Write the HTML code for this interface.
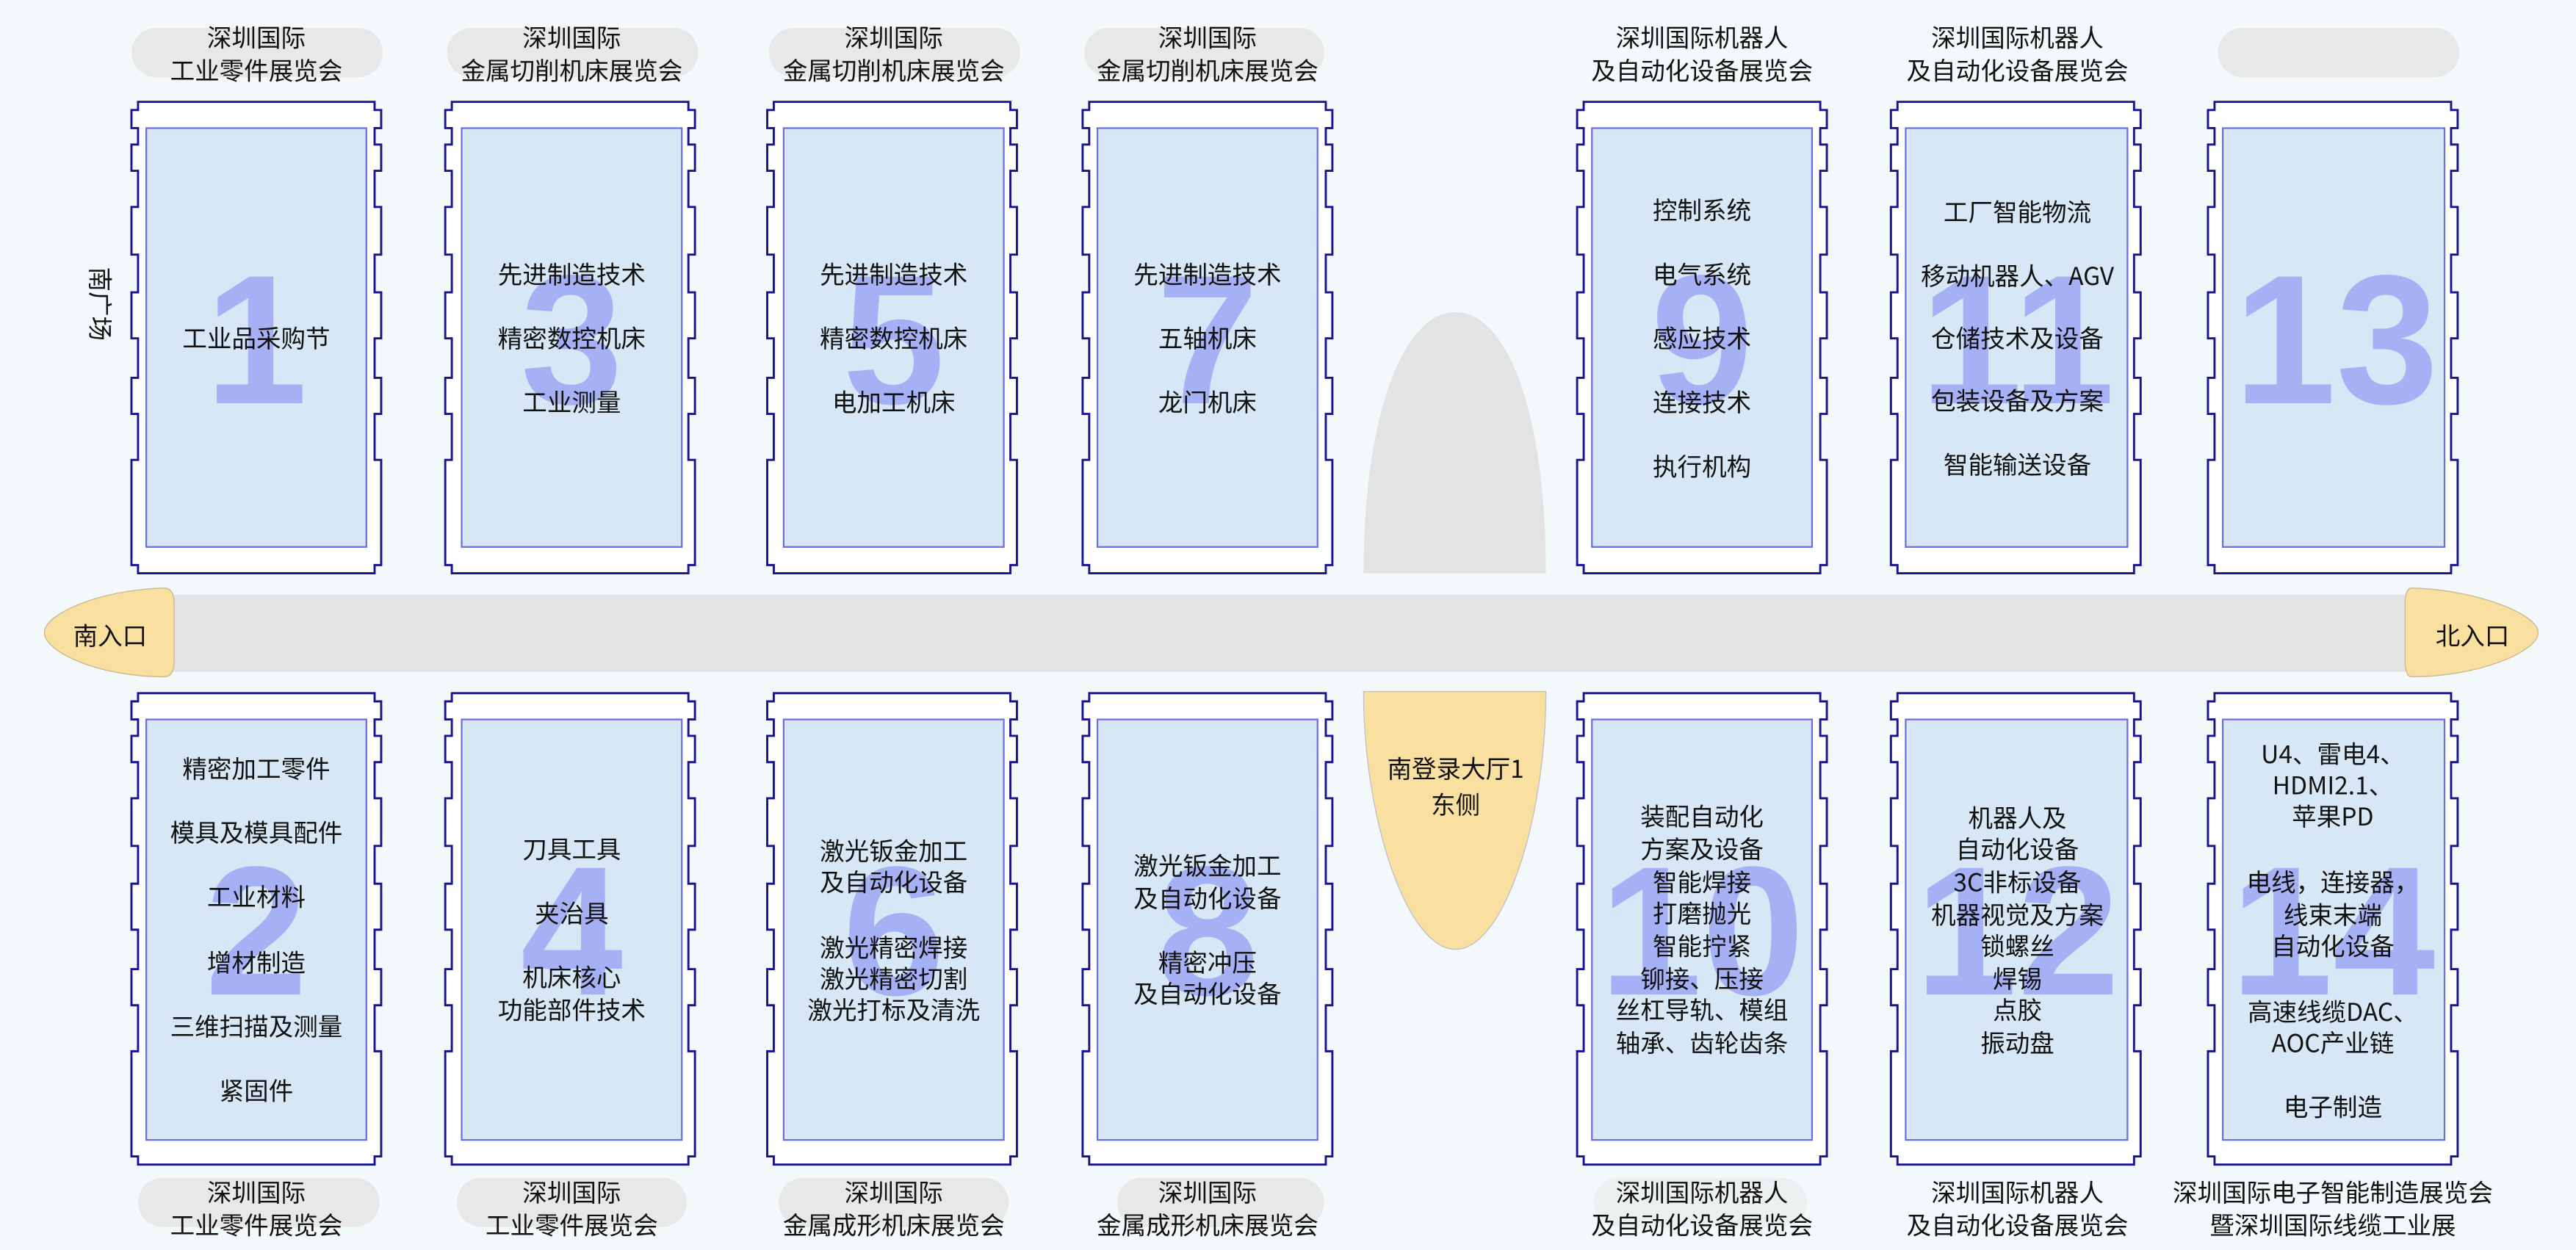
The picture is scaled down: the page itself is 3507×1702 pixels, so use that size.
<!DOCTYPE html>
<html><head><meta charset="utf-8"><style>
html,body{margin:0;padding:0;background:#f3f9fa;}
svg{display:block;}
text{font-family:"Liberation Sans","Noto Sans CJK SC",sans-serif;fill:#111;}
.t{font-size:15px;text-anchor:middle;dominant-baseline:central;font-family:"Noto Sans CJK SC","Liberation Sans",sans-serif;}
.n{font-size:112px;font-weight:bold;fill:#a6b0f5;text-anchor:middle;dominant-baseline:central;}
.h{fill:#fff;stroke:#17148c;stroke-width:1.3;}
.i{fill:#d8e7f5;stroke:#6a6fe0;stroke-width:1;}
.p{fill:#e8e8e8;}
</style></head><body>
<svg width="3507" height="1702" viewBox="0 0 1568 761" xmlns="http://www.w3.org/2000/svg">
<defs>
<path id="hall" d="M0,0 H144 V5 H148 V16 H144 V26 H148 V42 H144 V64 H148 V93 H144 V116 H148 V144 H144 V168 H148 V190 H144 V218 H148 V282 H144 V287 H0 V282 H-4 V218 H0 V190 H-4 V168 H0 V144 H-4 V116 H0 V93 H-4 V64 H0 V42 H-4 V26 H0 V16 H-4 V5 H0 Z"/>
</defs>
<rect width="1568" height="761" fill="#f3f9fa"/>
<rect x="100" y="362" width="1370" height="47" fill="#e3e3e3"/>
<path d="M100,358 C60,359 27,374 27,385 C27,397 60,412 100,412 Q106,412 106,402 V368 Q106,358 100,358 Z" fill="#f9dfa0" stroke="#c9b890" stroke-width="0.6"/>
<path d="M1468,358 C1508,359 1545,374 1545,385 C1545,397 1508,412 1468,412 Q1464,412 1464,402 V368 Q1464,358 1468,358 Z" fill="#f9dfa0" stroke="#c9b890" stroke-width="0.6"/>
<text class="t" x="67" y="386">南入口</text>
<text class="t" x="1505" y="386">北入口</text>
<path d="M830,349 C830,250 855,190 886,190 C917,190 941,250 941,349 Z" fill="#e3e3e3"/>
<path d="M830,421 H941 C941,500 915,578 886,578 C857,578 830,500 830,421 Z" fill="#f9dfa0" stroke="#c0c0c8" stroke-width="0.6"/>
<text class="t" x="886" y="467">南登录大厅1</text>
<text class="t" x="886" y="489">东侧</text>
<text class="t" x="62" y="185" transform="rotate(90 62 185)">南广场</text>

<rect class="p" x="80" y="17" width="153" height="30" rx="15"/>
<rect class="p" x="272" y="17" width="153" height="30" rx="15"/>
<rect class="p" x="468" y="17" width="153" height="30" rx="15"/>
<rect class="p" x="660" y="17" width="146" height="30" rx="15"/>
<rect class="p" x="1350" y="17" width="147" height="30" rx="15"/>
<rect class="p" x="84" y="717" width="147" height="30" rx="15"/>
<rect class="p" x="278" y="717" width="140" height="30" rx="15"/>
<rect class="p" x="474" y="717" width="140" height="30" rx="15"/>
<rect class="p" x="680" y="717" width="126" height="30" rx="15"/>
<rect class="p" x="970" y="717" width="130" height="30" rx="15" opacity="0.5"/>

<g>
<use href="#hall" x="84" y="62" class="h"/><rect class="i" x="89" y="78" width="134" height="255"/>
<use href="#hall" x="275" y="62" class="h"/><rect class="i" x="281" y="78" width="134" height="255"/>
<use href="#hall" x="471" y="62" class="h"/><rect class="i" x="477" y="78" width="134" height="255"/>
<use href="#hall" x="663" y="62" class="h"/><rect class="i" x="668" y="78" width="134" height="255"/>
<use href="#hall" x="964" y="62" class="h"/><rect class="i" x="969" y="78" width="134" height="255"/>
<use href="#hall" x="1155" y="62" class="h"/><rect class="i" x="1160" y="78" width="135" height="255"/>
<use href="#hall" x="1348" y="62" class="h"/><rect class="i" x="1353" y="78" width="135" height="255"/>
</g>
<g>
<use href="#hall" x="84" y="422" class="h"/><rect class="i" x="89" y="438" width="134" height="256"/>
<use href="#hall" x="275" y="422" class="h"/><rect class="i" x="281" y="438" width="134" height="256"/>
<use href="#hall" x="471" y="422" class="h"/><rect class="i" x="477" y="438" width="134" height="256"/>
<use href="#hall" x="663" y="422" class="h"/><rect class="i" x="668" y="438" width="134" height="256"/>
<use href="#hall" x="964" y="422" class="h"/><rect class="i" x="969" y="438" width="134" height="256"/>
<use href="#hall" x="1155" y="422" class="h"/><rect class="i" x="1160" y="438" width="135" height="256"/>
<use href="#hall" x="1348" y="422" class="h"/><rect class="i" x="1353" y="438" width="135" height="256"/>
</g>

<text class="n" x="156" y="207">1</text>
<text class="n" x="348" y="207">3</text>
<text class="n" x="544" y="207">5</text>
<text class="n" x="735" y="207">7</text>
<text class="n" x="1036" y="207">9</text>
<text class="n" x="1228" y="207">11</text>
<text class="n" x="1422" y="207">13</text>
<text class="n" x="156" y="567">2</text>
<text class="n" x="348" y="567">4</text>
<text class="n" x="544" y="567">6</text>
<text class="n" x="735" y="567">8</text>
<text class="n" x="1036" y="567">10</text>
<text class="n" x="1228" y="567">12</text>
<text class="n" x="1420" y="567">14</text>

<text class="t" x="156" y="22">深圳国际</text><text class="t" x="156" y="42">工业零件展览会</text>
<text class="t" x="348" y="22">深圳国际</text><text class="t" x="348" y="42">金属切削机床展览会</text>
<text class="t" x="544" y="22">深圳国际</text><text class="t" x="544" y="42">金属切削机床展览会</text>
<text class="t" x="735" y="22">深圳国际</text><text class="t" x="735" y="42">金属切削机床展览会</text>
<text class="t" x="1036" y="22">深圳国际机器人</text><text class="t" x="1036" y="42">及自动化设备展览会</text>
<text class="t" x="1228" y="22">深圳国际机器人</text><text class="t" x="1228" y="42">及自动化设备展览会</text>
<text class="t" x="156" y="725">深圳国际</text><text class="t" x="156" y="745">工业零件展览会</text>
<text class="t" x="348" y="725">深圳国际</text><text class="t" x="348" y="745">工业零件展览会</text>
<text class="t" x="544" y="725">深圳国际</text><text class="t" x="544" y="745">金属成形机床展览会</text>
<text class="t" x="735" y="725">深圳国际</text><text class="t" x="735" y="745">金属成形机床展览会</text>
<text class="t" x="1036" y="725">深圳国际机器人</text><text class="t" x="1036" y="745">及自动化设备展览会</text>
<text class="t" x="1228" y="725">深圳国际机器人</text><text class="t" x="1228" y="745">及自动化设备展览会</text>
<text class="t" x="1420" y="725">深圳国际电子智能制造展览会</text><text class="t" x="1420" y="745">暨深圳国际线缆工业展</text>

<text class="t" x="156" y="205">工业品采购节</text>
<text class="t" x="348" y="166">先进制造技术</text><text class="t" x="348" y="205">精密数控机床</text><text class="t" x="348" y="244">工业测量</text>
<text class="t" x="544" y="166">先进制造技术</text><text class="t" x="544" y="205">精密数控机床</text><text class="t" x="544" y="244">电加工机床</text>
<text class="t" x="735" y="166">先进制造技术</text><text class="t" x="735" y="205">五轴机床</text><text class="t" x="735" y="244">龙门机床</text>
<text class="t" x="1036" y="127">控制系统</text><text class="t" x="1036" y="166">电气系统</text><text class="t" x="1036" y="205">感应技术</text><text class="t" x="1036" y="244">连接技术</text><text class="t" x="1036" y="283">执行机构</text>
<text class="t" x="1228" y="128">工厂智能物流</text><text class="t" x="1228" y="167">移动机器人、AGV</text><text class="t" x="1228" y="205">仓储技术及设备</text><text class="t" x="1228" y="243">包装设备及方案</text><text class="t" x="1228" y="282">智能输送设备</text>

<text class="t" x="156" y="467">精密加工零件</text><text class="t" x="156" y="506">模具及模具配件</text><text class="t" x="156" y="545">工业材料</text><text class="t" x="156" y="585">增材制造</text><text class="t" x="156" y="624">三维扫描及测量</text><text class="t" x="156" y="663">紧固件</text>
<text class="t" x="348" y="516">刀具工具</text><text class="t" x="348" y="555">夹治具</text><text class="t" x="348" y="594">机床核心</text><text class="t" x="348" y="614">功能部件技术</text>
<text class="t" x="544" y="517">激光钣金加工</text><text class="t" x="544" y="536">及自动化设备</text><text class="t" x="544" y="576">激光精密焊接</text><text class="t" x="544" y="595">激光精密切割</text><text class="t" x="544" y="614">激光打标及清洗</text>
<text class="t" x="735" y="526">激光钣金加工</text><text class="t" x="735" y="546">及自动化设备</text><text class="t" x="735" y="585">精密冲压</text><text class="t" x="735" y="604">及自动化设备</text>
<text class="t" x="1036" y="496">装配自动化</text><text class="t" x="1036" y="516">方案及设备</text><text class="t" x="1036" y="536">智能焊接</text><text class="t" x="1036" y="555">打磨抛光</text><text class="t" x="1036" y="575">智能拧紧</text><text class="t" x="1036" y="595">铆接、压接</text><text class="t" x="1036" y="614">丝杠导轨、模组</text><text class="t" x="1036" y="634">轴承、齿轮齿条</text>
<text class="t" x="1228" y="497">机器人及</text><text class="t" x="1228" y="516">自动化设备</text><text class="t" x="1228" y="536">3C非标设备</text><text class="t" x="1228" y="556">机器视觉及方案</text><text class="t" x="1228" y="575">锁螺丝</text><text class="t" x="1228" y="595">焊锡</text><text class="t" x="1228" y="614">点胶</text><text class="t" x="1228" y="634">振动盘</text>
<text class="t" x="1420" y="458">U4、雷电4、</text><text class="t" x="1420" y="477">HDMI2.1、</text><text class="t" x="1420" y="496">苹果PD</text><text class="t" x="1420" y="536">电线，连接器，</text><text class="t" x="1420" y="556">线束末端</text><text class="t" x="1420" y="575">自动化设备</text><text class="t" x="1420" y="615">高速线缆DAC、</text><text class="t" x="1420" y="634">AOC产业链</text><text class="t" x="1420" y="673">电子制造</text>
</svg>
</body></html>
